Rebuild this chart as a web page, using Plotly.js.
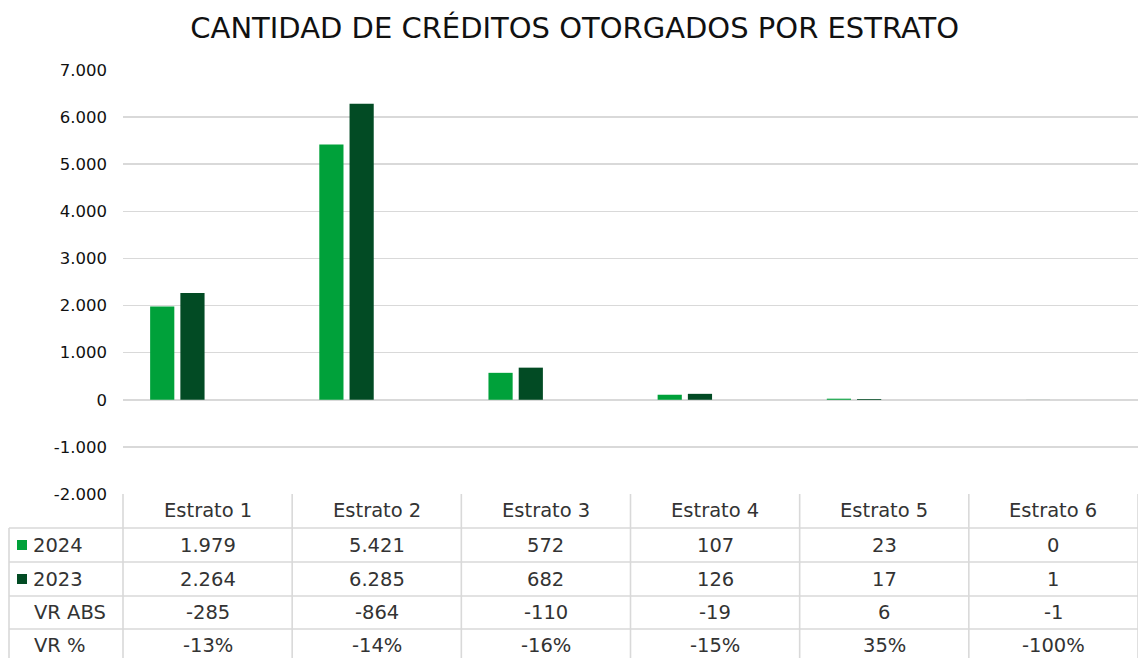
<!DOCTYPE html>
<html>
<head>
<meta charset="utf-8">
<script src="https://cdn.plot.ly/plotly-3.0.1.min.js"></script>
<style>html,body{margin:0;padding:0;background:#fff;}#chart{width:1138px;height:658px;}</style>
</head>
<body>
<div id="chart"></div>
<script>
const categories = ["Estrato 1","Estrato 2","Estrato 3","Estrato 4","Estrato 5","Estrato 6"];
const values2024 = [1979, 5421, 572, 107, 23, 0];
const values2023 = [2264, 6285, 682, 126, 17, 1];
const vrAbs = [-285, -864, -110, -19, 6, -1];
const vrPct = [-13, -14, -16, -15, 35, -100];
const tickVals = [7000, 6000, 5000, 4000, 3000, 2000, 1000, 0, -1000, -2000];
const tickText = ["7.000","6.000","5.000","4.000","3.000","2.000","1.000","0","-1.000","-2.000"];
const seriesNames = ["2024","2023","VR ABS","VR %"];

const colorLight = "#00A13A";
const colorDark = "#024B24";
const gridColor = "#d9d9d9";
const fontFam = "DejaVu Sans, sans-serif";
const textColor = "#333333";

function fmt(n){
  const s = Math.abs(n).toString().replace(/\B(?=(\d{3})+(?!\d))/g, ".");
  return (n < 0 ? "-" : "") + s;
}

// layout geometry (pixels)
const W = 1138, H = 658;
const mL = 123, mR = 0, mT = 70, mB = 164;
const plotW = W - mL - mR, plotH = H - mT - mB;
const py = p => (H - mB - p) / plotH;     // pixel y -> paper y
const px = p => (p - mL) / plotW;         // pixel x -> paper x

const traces = [
  {type:"bar", name:seriesNames[0], x:categories, y:values2024, marker:{color:colorLight}, hoverinfo:"y"},
  {type:"bar", name:seriesNames[1], x:categories, y:values2023, marker:{color:colorDark}, hoverinfo:"y"},
  {type:"bar", name:seriesNames[2], x:categories, y:vrAbs, marker:{color:"rgba(0,0,0,0)"}, hoverinfo:"skip"},
  {type:"bar", name:seriesNames[3], x:categories, y:vrPct.map(v=>v/100), marker:{color:"rgba(0,0,0,0)"}, hoverinfo:"skip"}
];

const shapes = [];
const annotations = [];
const rowLines = [528, 562, 596, 629];
const rowCenters = [545, 579, 612, 645];
const headerCenter = 511;
const tableLeft = 9;
const lineStyle = {color: gridColor, width: 1.6};

rowLines.forEach(p => shapes.push({type:"line", xref:"paper", yref:"paper", x0:px(tableLeft), x1:1, y0:py(p), y1:py(p), line:lineStyle, layer:"above"}));
shapes.push({type:"line", xref:"paper", yref:"paper", x0:px(tableLeft), x1:px(tableLeft), y0:py(528), y1:py(H+5), line:lineStyle});
shapes.push({type:"line", xref:"paper", yref:"paper", x0:0, x1:0, y0:py(494), y1:py(H+5), line:lineStyle});
for (let i = 0; i < categories.length; i++) {
  shapes.push({type:"line", xref:"x", yref:"paper", x0:i+0.5, x1:i+0.5, y0:py(494), y1:py(H+5), line:lineStyle});
}
[colorLight, colorDark].forEach((c, k) => {
  const cy = rowCenters[k];
  shapes.push({type:"rect", xref:"paper", yref:"paper", x0:px(17), x1:px(27), y0:py(cy+5), y1:py(cy-5), fillcolor:c, line:{width:0}});
});

const cellFont = {family: fontFam, size: 19.5, color: textColor};
categories.forEach((c, i) => {
  annotations.push({xref:"x", yref:"paper", x:i, y:py(headerCenter), text:c, showarrow:false, font:cellFont, xanchor:"center", yanchor:"middle"});
  const cols = [fmt(values2024[i]), fmt(values2023[i]), fmt(vrAbs[i]), vrPct[i] + "%"];
  cols.forEach((t, r) => annotations.push({xref:"x", yref:"paper", x:i, y:py(rowCenters[r]), text:t, showarrow:false, font:cellFont, xanchor:"center", yanchor:"middle"}));
});
const labelX = [31, 31, 32, 32];
seriesNames.forEach((n, r) => annotations.push({xref:"paper", yref:"paper", x:px(labelX[r]), y:py(rowCenters[r]), text:n, showarrow:false, font:cellFont, xanchor:"left", yanchor:"middle"}));

const layout = {
  width: W, height: H,
  margin: {l:mL, r:mR, t:mT, b:mB, pad:0},
  paper_bgcolor:"#fff", plot_bgcolor:"#fff",
  title: {text:"CANTIDAD DE CRÉDITOS OTORGADOS POR ESTRATO", x:0.505, xref:"container", y:0.957, yanchor:"middle", xanchor:"center",
          font:{family:fontFam, size:29, color:"#111"}},
  barmode:"group", bargap:0.285, bargroupgap:0.2,
  showlegend:false,
  xaxis:{type:"category", range:[-0.5, 5.5], showticklabels:false, showgrid:false, zeroline:false, showline:false, ticks:"", fixedrange:true},
  yaxis:{range:[-2000, 7000], tickvals:tickVals, ticktext:tickText, showgrid:true, gridcolor:gridColor, gridwidth:1.6,
         zeroline:true, zerolinecolor:gridColor, zerolinewidth:1.6, showline:false, ticks:"",
         ticklabelstandoff:15, tickfont:{family:fontFam, size:16.5, color:"#111"}, fixedrange:true},
  shapes: shapes,
  annotations: annotations,
  font:{family:fontFam, color:textColor}
};

Plotly.newPlot("chart", traces, layout, {displayModeBar:false, staticPlot:true});
</script>
</body>
</html>
